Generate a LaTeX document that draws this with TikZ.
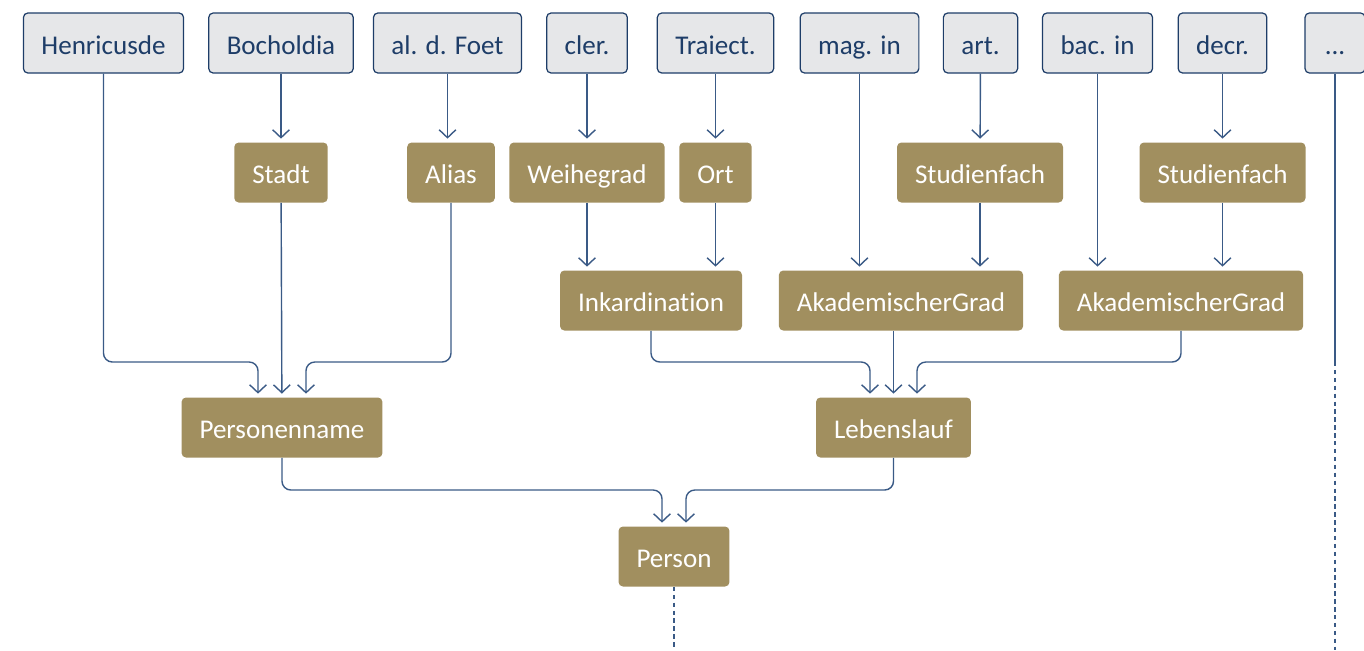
\documentclass[tikz,border=0pt]{standalone}
\usepackage{fontspec}
\setmainfont{Carlito}[Ligatures=NoCommon]
\usetikzlibrary{arrows.meta}
\definecolor{boxgray}{HTML}{E6E7E9}
\definecolor{inkblue}{HTML}{1E3D68}
\definecolor{lineblue}{HTML}{3A5A86}
\definecolor{gold}{HTML}{A18F5F}
\tikzset{
    basic/.style = {rectangle, rounded corners=2.5pt, minimum height=1.2cm, inner xsep=0.36cm, text height=15pt, text depth=2.2pt, font=\fontsize{15.4}{19}\selectfont},
    word/.style  = {basic, draw=inkblue, line width=0.7pt, fill=boxgray, text=inkblue},
    tag/.style   = {basic, fill=gold, text=white},
    link/.style  = {draw=lineblue, line width=0.8pt, rounded corners=5pt, shorten >=2pt, ->},
    more/.style  = {draw=lineblue, line width=0.8pt, dash pattern=on 2.5pt off 2pt}
}

\begin{document}
\begin{tikzpicture}[x=0.02cm, y=-0.02cm, >={Straight Barb[length=4.5pt,width=9.5pt]}]
	\useasboundingbox (0,0) rectangle (1364,650);
	\clip (0,0) rectangle (1364,650);
	% words of the source
	\node[word] (henr)  at (103.5,43)  {Henricusde};
	\node[word] (boch)  at (281,43)    {Bocholdia};
	\node[word] (foet)  at (447.5,43)  {al. d. Foet};
	\node[word] (cler)  at (587,43)    {cler.};
	\node[word] (traj)  at (715.5,43)  {Traiect.};
	\node[word] (mag)   at (859.5,43)  {mag. in};
	\node[word] (art)   at (980.5,43)  {art.};
	\node[word] (bac)   at (1097.5,43) {bac. in};
	\node[word] (decr)  at (1222.5,43) {decr.};
	\node[word, minimum width=1.2cm] (dots) at (1335,43) {...};
	% annotations
	\node[tag] (stadt)  at (281,172.5)    {Stadt};
	\node[tag] (alias)  at (451,172.5)    {Alias};
	\node[tag] (weihe)  at (587,172.5)    {Weihegrad};
	\node[tag] (ort)    at (715.5,172.5)  {Ort};
	\node[tag] (fachA)  at (980,172.5)    {Studienfach};
	\node[tag] (fachB)  at (1222.5,172.5) {Studienfach};
	\node[tag] (inkard) at (651,300.5)    {Inkardination};
	\node[tag] (gradA)  at (901,300.5)    {AkademischerGrad};
	\node[tag] (gradB)  at (1181,300.5)   {AkademischerGrad};
	\node[tag] (pname)  at (282,427.5)    {Personenname};
	\node[tag] (leben)  at (893.5,427.5)  {Lebenslauf};
	\node[tag] (person) at (674,556.5)    {Person};
	\coordinate (j1) at (0,362);
	\coordinate (j2) at (0,490);
	\coordinate (cut) at (1335,362);
	\coordinate (endR) at (1335,650);
	\coordinate (endP) at (674,650);
	% straight links
	\draw[link] (boch) -- (stadt);
	\draw[link] (foet) -- (foet |- alias.north);
	\draw[link] (cler) -- (weihe);
	\draw[link] (traj) -- (ort);
	\draw[link] (art) -- (fachA);
	\draw[link] (decr) -- (fachB);
	\draw[link] (weihe) -- (weihe |- inkard.north);
	\draw[link] (ort) -- (ort |- inkard.north);
	\draw[link] (mag) -- (mag |- gradA.north);
	\draw[link] (fachA) -- (fachA |- gradA.north);
	\draw[link] (bac) -- (bac |- gradB.north);
	\draw[link] (fachB) -- (fachB |- gradB.north);
	\draw[link] (stadt) -- (pname);
	\draw[link] (leben |- gradA.south) -- (leben);
	% bent links
	\draw[link] (henr) |- ([xshift=-0.48cm]pname.north |- j1) -- ([xshift=-0.48cm]pname.north);
	\draw[link] (alias) |- ([xshift=0.48cm]pname.north |- j1) -- ([xshift=0.48cm]pname.north);
	\draw[link] (inkard) |- ([xshift=-0.47cm]leben.north |- j1) -- ([xshift=-0.47cm]leben.north);
	\draw[link] (gradB) |- ([xshift=0.47cm]leben.north |- j1) -- ([xshift=0.47cm]leben.north);
	\draw[link] (pname) |- ([xshift=-0.24cm]person.north |- j2) -- ([xshift=-0.24cm]person.north);
	\draw[link] (leben) |- ([xshift=0.24cm]person.north |- j2) -- ([xshift=0.24cm]person.north);
	% continuation
	\draw[draw=lineblue, line width=0.8pt] (dots) -- (cut);
	\draw[more] (cut) -- (endR);
	\draw[more] (person) -- (endP);
\end{tikzpicture}
\end{document}
